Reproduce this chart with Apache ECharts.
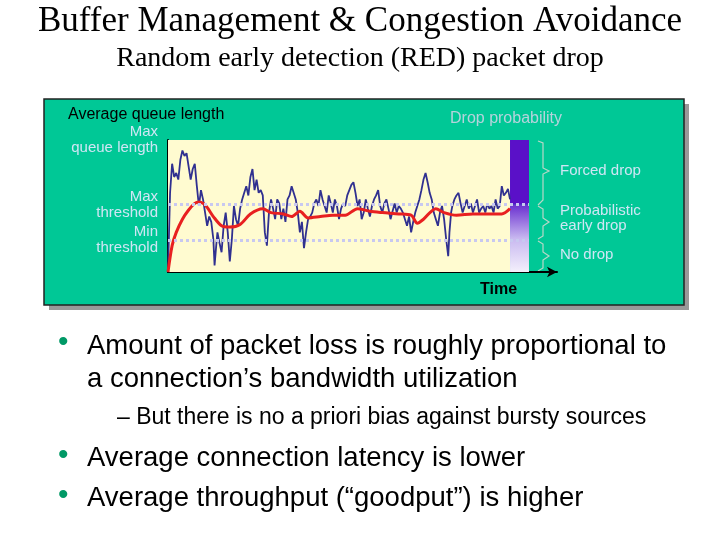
<!DOCTYPE html>
<html>
<head>
<meta charset="utf-8">
<script src="https://cdn.jsdelivr.net/npm/echarts@6/dist/echarts.min.js"></script>
<style>html,body{margin:0;padding:0;background:#fff}#main{width:720px;height:540px}</style>
</head>
<body>
<div id="main"></div>
<script>
// instantaneous queue length (time, value)
var queueTime = [0,5,10,15,20,25,30,35,40,45,50,55,60,65,70,75,80,85,90,95,100,105,110,113,117,120,125,130,135,140,145,150,155,160,165,170,175,180,185,190,195,200,205,210,215,220,225,230,235,240,245,250,255,260,265,270,275,280,285,290,295,300,305,310,315,320,325,330,335,340,345,350,355,360,365,370,375,380,385,390,395,400,405,410,415,420,425,430,435,440,445,450,455,460,465,470,475,480,485,490,495,500,505,510,515,520,525,530,535,540,545,550,555,560,565,570,575,580,585,590,595,600,605,610,615,620,625,630,635,640,645,650,655,660,665,670,675,680,683,687,690,695,700,705,710,715,720,725,730,735,740,745,750,755,760,765,770,775,780,785,790,795,800,805,810,815,820,825,830];
var queueLen = [0,60,82,72,75,70,85,92,88,90,80,70,78,82,65,50,62,55,45,35,42,38,25,5,20,30,22,15,35,45,30,8,25,50,40,35,48,55,60,65,58,72,78,62,70,60,62,58,30,20,45,55,48,40,55,52,40,48,38,55,58,65,60,55,45,30,38,18,30,40,42,45,52,55,50,62,55,50,45,58,52,45,55,50,40,48,52,50,58,62,66,68,60,50,55,40,45,55,48,42,50,55,58,62,50,45,52,55,48,40,46,52,45,50,48,45,40,35,42,30,38,45,50,55,62,70,75,68,60,55,45,40,35,45,50,40,25,12,30,45,50,55,58,60,52,45,50,55,48,52,45,50,55,45,48,50,45,52,48,50,45,55,48,50,65,58,60,63,55];
// average queue length (RED estimator)
var avgTime = [0,10,20,35,50,65,75,85,95,110,130,150,175,200,230,250,280,300,320,340,370,400,430,460,490,520,560,590,605,620,650,670,700,740,790,810,830];
var avgLen = [0,20,30,40,47,52,53,52,49,42,35,34,36,44,48,45,44,42,46,41,42,43,43,48,46,45,44,43,37,40,48,45,43,44,44,44,48];
var maxThreshold = 51, minThreshold = 24, maxQueue = 100;
var plotEnd = 830, barEnd = 876;
var yLabels = {100: 'Max\nqueue length', 51: 'Max\nthreshold', 24: 'Min\nthreshold'};

var myChart = echarts.init(document.getElementById('main'));
var lb = '#cfe6f5';
var option = {
	animation: false,
	graphic: [
		{type: 'text', left: 'center', top: 4, style: {text: 'Buffer Management & Congestion Avoidance', font: '35px "Liberation Serif"', fill: '#000'}},
		{type: 'text', left: 'center', top: 45, style: {text: 'Random early detection (RED) packet drop', font: '28px "Liberation Serif"', fill: '#000'}},
		{type: 'rect', z: -2, shape: {x: 49, y: 104, width: 640, height: 206}, style: {fill: '#999'}},
		{type: 'rect', z: -1, shape: {x: 44, y: 99, width: 640, height: 206}, style: {fill: '#00c896', stroke: '#222', lineWidth: 1.5}},
		{type: 'text', x: 68, y: 107, style: {text: 'Average queue length', font: '16px "Liberation Sans"', fill: '#000'}},
		{type: 'text', x: 450, y: 111, style: {text: 'Drop probability', font: '16px "Liberation Sans"', fill: '#b5d3dc'}},
		{type: 'text', x: 480, y: 282, style: {text: 'Time', font: 'bold 16px "Liberation Sans"', fill: '#000'}},
		{type: 'text', x: 560, y: 163, style: {text: 'Forced drop', font: '15px "Liberation Sans"', fill: lb}},
		{type: 'text', x: 560, y: 203, style: {text: 'Probabilistic\nearly drop', font: '15px "Liberation Sans"', fill: lb, lineHeight: 15}},
		{type: 'text', x: 560, y: 247, style: {text: 'No drop', font: '15px "Liberation Sans"', fill: lb}},
		{type: 'polyline', shape: {points: [[538,141],[543,143],[543,168],[549,171],[543,174],[543,200],[538,205]]}, style: {stroke: '#b8d8c8', lineWidth: 1.2, fill: null}},
		{type: 'polyline', shape: {points: [[538,206],[543,209],[543,218],[549,222],[543,226],[543,236],[538,239]]}, style: {stroke: '#b8d8c8', lineWidth: 1.2, fill: null}},
		{type: 'polyline', shape: {points: [[538,241],[543,244],[543,252],[549,256],[543,260],[543,268],[538,271]]}, style: {stroke: '#b8d8c8', lineWidth: 1.2, fill: null}},
		{type: 'text', x: 58, y: 328, style: {text: '•', font: '30px "Liberation Sans"', fill: '#009966'}},
		{type: 'text', x: 87, y: 330, style: {text: 'Amount of packet loss is roughly proportional to\na connection’s bandwidth utilization', font: '27.5px "Liberation Sans"', fill: '#000', lineHeight: 33}},
		{type: 'text', x: 117, y: 406, style: {text: '– But there is no a priori bias against bursty sources', font: '23px "Liberation Sans"', fill: '#000'}},
		{type: 'text', x: 58, y: 436, style: {text: '•\n•', font: '30px "Liberation Sans"', fill: '#009966', lineHeight: 40}},
		{type: 'text', x: 87, y: 438, style: {text: 'Average connection latency is lower\nAverage throughput (“goodput”) is higher', font: '27.5px "Liberation Sans"', fill: '#000', lineHeight: 40}}
	],
	grid: {left: 168, right: 163, top: 140, bottom: 268},
	xAxis: {
		type: 'value', min: 0, max: 944,
		splitLine: {show: false}, axisTick: {show: false}, axisLabel: {show: false},
		axisLine: {lineStyle: {color: '#000', width: 2}, symbol: ['none', 'arrow'], symbolSize: [8, 10]}
	},
	yAxis: {
		type: 'value', min: 0, max: maxQueue,
		splitLine: {show: false}, axisTick: {show: false},
		axisLine: {show: true, lineStyle: {color: '#000', width: 2}},
		axisLabel: {
			customValues: [minThreshold, maxThreshold, maxQueue],
			formatter: function (v) { return yLabels[v]; },
			hideOverlap: false,
			color: lb, fontSize: 15, fontFamily: 'Liberation Sans', lineHeight: 16,
			align: 'right', margin: 10
		}
	},
	series: [
		{
			type: 'line', symbol: 'none', z: 3,
			data: queueTime.map(function (t, i) { return [t, queueLen[i]]; }),
			lineStyle: {color: '#303090', width: 1.8},
			markArea: {
				silent: true,
				data: [
					[{coord: [0, 0], itemStyle: {color: '#fffbd0'}}, {coord: [plotEnd, maxQueue]}],
					[{coord: [plotEnd, maxThreshold], itemStyle: {color: '#5a10c8'}}, {coord: [barEnd, maxQueue]}],
					[{coord: [plotEnd, 0], itemStyle: {color: new echarts.graphic.LinearGradient(0, 0, 0, 1, [{offset: 0, color: '#6a30d0'}, {offset: 0.5, color: '#c8b8f0'}, {offset: 1, color: '#f4f0fc'}])}}, {coord: [barEnd, maxThreshold]}]
				]
			},
			markLine: {
				silent: true, symbol: 'none', label: {show: false},
				lineStyle: {color: '#c8c8f0', type: 'dotted', width: 3},
				data: [
					[{coord: [0, maxThreshold]}, {coord: [barEnd, maxThreshold]}],
					[{coord: [0, minThreshold]}, {coord: [barEnd, minThreshold]}]
				]
			}
		},
		{
			type: 'line', symbol: 'none', smooth: 0.3, z: 4,
			data: avgTime.map(function (t, i) { return [t, avgLen[i]]; }),
			lineStyle: {color: '#e82020', width: 3}
		}
	]
};
myChart.setOption(option);
</script>
</body>
</html>
